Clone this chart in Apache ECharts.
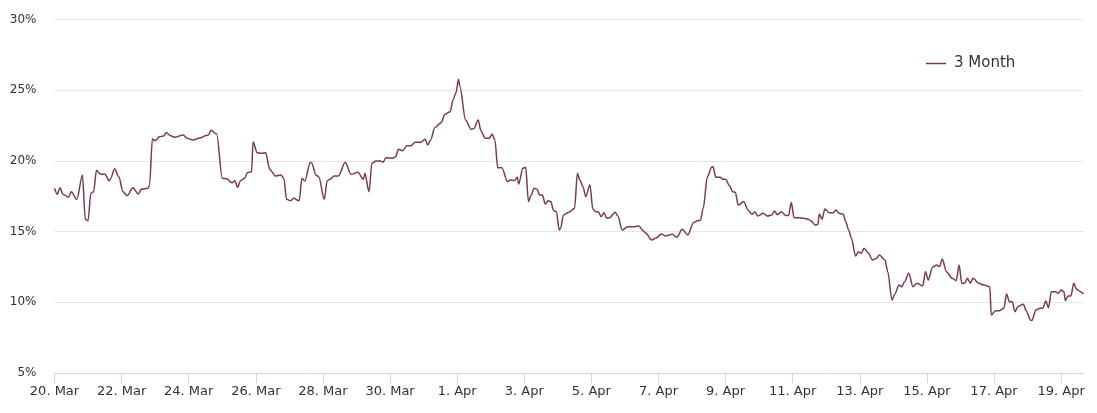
<!DOCTYPE html>
<html>
<head>
<meta charset="utf-8">
<script src="https://cdn.jsdelivr.net/npm/echarts@6/dist/echarts.min.js"></script>
<style>
html,body{margin:0;padding:0;background:#fff;}
#chart{width:1097px;height:413px;}
</style>
</head>
<body>
<div id="chart"></div>
<script>
// hours since 20 Mar 00:00
const hours = [0,2,4,6,10,12,16,20,22,24,26,28,30,33,36,39,40,43,46,49,52,56,60,62,67,68,70,72,75,78,80,83,86,92,95,99,104,108,110,112,116,120,123,127,129,131,133,136,138,141,142,145,148,151,154,158,162,164,166,169,171,175,177,179,183,184,187,189,193,195,197,200,203,208,212,217,221,222,225,227,230,233,235,237,242,244,246,249,252,255,258,262,265,267,269,272,276,277,279,283,285,287,289,290,294,298,300,303,305,308,311,313,315,317,320,324,326,329,331,332,335,337,339,341,343,345,347,349,351,353,355,357,359,361,362,364,368,372,374,376,378,380,383,385,387,389,391,393,395,397,401,403,406,410,415,418,421,423,427,430,434,437,442,445,449,453,457,460,462,464,467,470,471,473,476,478,480,483,485,487,489,493,496,499,501,503,507,510,513,515,517,520,523,525,527,529,532,536,539,541,544,546,547,549,551,554,557,559,561,564,566,568,570,573,575,577,579,582,585,588,590,594,596,599,601,604,606,608,611,614,617,621,623,625,628,631,633,635,638,642,645,647,649,651,653,655,657,661,665,669,670,673,676,679,681,683,685,687,689,693,695,698,699,702,705,707,709,711,713,716,718,720,722,723,725,727,729,731,734,736];

const vol3m = [18.06,17.64,18.10,17.64,17.43,17.82,17.28,19.00,15.87,15.77,17.71,17.82,19.33,19.05,19.07,18.60,18.72,19.45,18.88,17.82,17.54,18.10,17.66,17.99,18.06,18.30,21.55,21.43,21.71,21.76,22.00,21.78,21.67,21.83,21.60,21.48,21.62,21.78,21.83,22.16,21.90,18.77,18.74,18.46,18.60,18.13,18.60,18.77,19.17,19.24,21.36,20.58,20.54,20.58,19.40,18.93,19.00,18.77,17.28,17.18,17.35,17.18,18.77,18.58,19.90,19.83,19.00,18.88,17.28,18.60,18.70,18.93,18.93,19.90,19.05,19.19,18.70,19.12,17.82,19.83,19.99,19.99,19.90,20.22,20.18,20.30,20.82,20.72,21.08,21.08,21.32,21.32,21.53,21.12,21.48,22.35,22.66,22.77,23.29,23.48,24.31,24.78,25.77,25.25,22.89,22.23,22.30,22.89,22.14,21.60,21.60,21.90,21.48,19.52,19.52,18.53,18.65,18.60,18.84,18.37,19.48,19.55,17.12,17.59,18.06,18.02,17.59,17.59,16.95,17.18,17.12,16.48,16.41,15.11,15.23,16.17,16.36,16.65,19.12,18.60,18.18,17.47,18.32,16.60,16.41,16.41,16.05,16.34,15.94,15.98,16.36,16.10,15.11,15.35,15.35,15.40,15.06,14.88,14.41,14.53,14.83,14.69,14.81,14.60,15.16,14.76,15.63,15.77,15.80,16.65,18.88,19.55,19.59,18.84,18.84,18.70,18.70,18.22,17.82,17.78,16.88,17.12,16.53,16.22,16.41,16.10,16.29,16.10,16.17,16.46,16.20,16.41,16.13,16.13,17.05,15.98,15.98,15.94,15.87,15.77,15.47,15.50,16.25,15.87,16.60,16.34,16.34,16.53,16.29,16.25,15.70,15.11,14.53,13.27,13.58,13.46,13.82,13.51,12.99,13.11,13.34,12.99,12.16,10.16,10.57,11.22,11.10,11.46,12.05,11.10,11.34,11.15,12.16,11.58,12.47,12.64,12.52,13.06,12.16,11.70,11.53,12.64,11.34,11.34,11.70,11.34,11.70,11.34,11.22,11.10,9.10,9.41,9.41,9.58,10.59,10.04,10.04,9.34,9.69,9.86,9.41,8.75,8.71,9.46,9.58,9.58,10.09,9.62,10.75,10.75,10.64,10.87,10.75,10.12,10.45,10.45,11.34,10.92,10.75,10.59];

const tickLabels = ["20. Mar","22. Mar","24. Mar","26. Mar","28. Mar","30. Mar","1. Apr","3. Apr","5. Apr","7. Apr","9. Apr","11. Apr","13. Apr","15. Apr","17. Apr","19. Apr"];
const yTicks = [5,10,15,20,25,30];
const seriesName = "3 Month";

const stepH = 16;        // category step (hours)
const lastH = hours[hours.length - 1];
const nCat = Math.round(lastH / stepH) + 1;
const cats = [];
for (let i = 0; i < nCat; i++) cats.push(i % 3 === 0 ? (tickLabels[i / 3] || '') : '');

const data = hours.map((h, i) => [h, vol3m[i]]);
const font = 'DejaVu Sans';
const lineColor = '#7a3b58';

const chart = echarts.init(document.getElementById('chart'), null, {renderer: 'canvas'});
chart.setOption({
  animation: false,
  backgroundColor: '#ffffff',
  grid: {left: 54.5, right: 13.5, top: 19.5, bottom: 40, containLabel: false},
  legend: {
    data: [{name: seriesName, icon: 'rect'}],
    left: 921, top: 51,
    itemWidth: 20, itemHeight: 1.5, itemGap: 8,
    itemStyle: {color: lineColor},
    textStyle: {fontFamily: font, fontSize: 15, color: '#333333', padding: [0, 0, 0, 3]}
  },
  xAxis: [
    {type: 'value', min: 0, max: lastH, show: false},
    {
      type: 'category', data: cats, boundaryGap: false, position: 'bottom',
      axisLine: {lineStyle: {color: '#ccd6eb', width: 1}},
      axisTick: {interval: 2, length: 10, lineStyle: {color: '#ccd6eb'}},
      axisLabel: {interval: 2, margin: 12, fontFamily: font, fontSize: 13, color: '#333333'},
      splitLine: {show: false}
    }
  ],
  yAxis: {
    type: 'value', min: yTicks[0], max: yTicks[yTicks.length - 1], interval: 5,
    axisLine: {show: false}, axisTick: {show: false},
    axisLabel: {formatter: '{value}%', margin: 18, fontFamily: font, fontSize: 12, color: '#333333'},
    splitLine: {lineStyle: {color: '#e6e6e6', width: 1}}
  },
  series: [{
    name: seriesName, type: 'line', xAxisIndex: 0, data: data,
    symbol: 'none', smooth: 0.3, smoothMonotone: 'x',
    lineStyle: {color: lineColor, width: 1.5},
    itemStyle: {color: lineColor}
  }]
});
</script>
</body>
</html>
